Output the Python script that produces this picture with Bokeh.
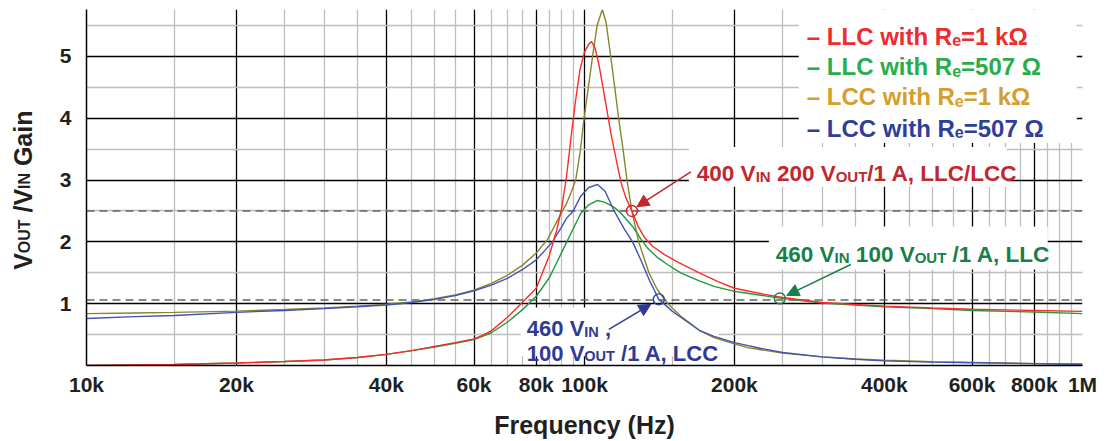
import math
from bokeh.plotting import figure
from bokeh.layouts import row
from bokeh.models import FixedTicker, Label, Span, Arrow, NormalHead, Range1d
from bokeh.embed import file_html
from bokeh.resources import INLINE

# ---------------- data (frequency in Hz, gain V/V) ----------------
llc_1k_f = [10e3, 15e3, 20e3, 25e3, 30e3, 35e3, 40e3, 45e3, 50e3, 55e3, 60e3, 62e3, 65e3, 70e3, 75e3,
            80e3, 85e3, 88e3, 90e3, 92e3, 94e3, 96e3, 98e3, 100e3, 102e3, 103.3e3, 105e3, 107e3,
            110e3, 113e3, 116e3, 118.5e3, 121e3, 124.5e3, 128e3, 132e3, 137e3, 145e3, 155e3, 170e3,
            185e3, 200e3, 230e3, 250e3, 300e3, 400e3, 500e3, 600e3, 800e3, 1000e3]
llc_1k_g = [0.0, 0.015, 0.04, 0.065, 0.09, 0.13, 0.18, 0.24, 0.31, 0.37, 0.43, 0.48, 0.56, 0.78, 1.02,
            1.25, 1.78, 2.2, 2.55, 3.05, 3.7, 4.3, 4.8, 5.07, 5.2, 5.24, 5.14, 4.85,
            4.3, 3.75, 3.3, 2.95, 2.72, 2.5, 2.26, 2.07, 1.93, 1.79, 1.66, 1.5,
            1.36, 1.25, 1.15, 1.10, 1.02, 0.96, 0.93, 0.91, 0.89, 0.875]

llc_507_f = [10e3, 15e3, 20e3, 25e3, 30e3, 35e3, 40e3, 45e3, 50e3, 55e3, 60e3, 65e3, 70e3, 75e3, 80e3,
             85e3, 90e3, 95e3, 98.3e3, 102e3, 106.2e3, 110e3, 114.7e3, 118.5e3, 124.9e3, 129.7e3,
             133.8e3, 140e3, 147e3, 156e3, 170e3, 182e3, 200e3, 212.5e3, 246.7e3, 300e3, 400e3,
             500e3, 600e3, 800e3, 1000e3]
llc_507_g = [0.0, 0.015, 0.04, 0.065, 0.09, 0.13, 0.18, 0.24, 0.30, 0.36, 0.42, 0.53, 0.70, 0.90, 1.12,
             1.42, 1.83, 2.22, 2.46, 2.6, 2.67, 2.64, 2.56, 2.46, 2.25, 2.05,
             1.9, 1.75, 1.63, 1.5, 1.37, 1.28, 1.2, 1.17, 1.09, 1.01, 0.95,
             0.92, 0.89, 0.865, 0.84]

lcc_1k_f = [10e3, 12.5e3, 15e3, 20e3, 25e3, 30e3, 35e3, 40e3, 45e3, 50e3, 55e3, 60e3, 65e3, 70e3, 75e3,
            80e3, 84.3e3, 87e3, 89.6e3, 92e3, 94e3, 96e3, 98e3, 99.8e3, 101.8e3, 103.8e3, 106e3,
            108.6e3, 110.5e3, 112.9e3, 115e3, 117.1e3, 119.5e3, 121.7e3, 124.5e3, 128.5e3, 134.7e3,
            140e3, 146.4e3, 150e3, 156e3, 170e3, 182e3, 200e3, 212.5e3, 250e3, 300e3, 350e3, 400e3,
            500e3, 600e3, 800e3, 1000e3]
lcc_1k_g = [0.84, 0.85, 0.86, 0.88, 0.905, 0.93, 0.96, 0.99, 1.03, 1.08, 1.14, 1.22, 1.33, 1.46, 1.62,
            1.82, 2.04, 2.25, 2.45, 2.62, 2.8, 3.0, 3.45, 4.0, 4.5, 5.0, 5.5,
            5.76, 5.55, 5.0, 4.5, 4.0, 3.5, 3.0, 2.5, 2.0, 1.5,
            1.23, 1.02, 0.93, 0.8, 0.57, 0.45, 0.35, 0.29, 0.2, 0.14, 0.105, 0.085,
            0.06, 0.05, 0.03, 0.02]

lcc_507_f = [10e3, 12.5e3, 15e3, 20e3, 25e3, 30e3, 35e3, 40e3, 45e3, 50e3, 55e3, 60e3, 65e3, 70e3, 75e3,
             80e3, 83e3, 86.2e3, 89.6e3, 92e3, 94.9e3, 98.3e3, 102e3, 106.2e3, 110e3, 114.7e3, 120e3,
             124.9e3, 129.7e3, 135e3, 141e3, 150e3, 156e3, 170e3, 182e3, 200e3, 225e3, 250e3, 300e3,
             350e3, 400e3, 500e3, 600e3, 800e3, 1000e3]
lcc_507_g = [0.76, 0.79, 0.81, 0.86, 0.89, 0.92, 0.95, 0.98, 1.02, 1.07, 1.13, 1.21, 1.3, 1.41, 1.55,
             1.71, 1.85, 2.0, 2.22, 2.38, 2.5, 2.74, 2.88, 2.93, 2.82, 2.5, 2.22,
             2.0, 1.71, 1.38, 1.07, 0.88, 0.78, 0.57, 0.47, 0.37, 0.28, 0.21, 0.14,
             0.10, 0.075, 0.055, 0.045, 0.03, 0.02]

# marked operating points
point_f = [124.5e3, 246.7e3, 141e3]
point_g = [2.5, 1.085, 1.07]
ref_gains = [2.5, 1.06]

x_major = [10e3, 20e3, 40e3, 60e3, 80e3, 100e3, 200e3, 400e3, 600e3, 800e3, 1000e3]
x_labels = ["10k", "20k", "40k", "60k", "80k", "100k", "200k", "400k", "600k", "800k", "1M"]
x_minor = [15e3, 25e3, 30e3, 35e3, 45e3, 50e3, 55e3, 65e3, 70e3, 75e3, 85e3, 90e3, 95e3,
           150e3, 250e3, 300e3, 350e3, 450e3, 500e3, 550e3, 650e3, 700e3, 750e3, 850e3, 900e3, 950e3]
y_major = [1, 2, 3, 4, 5]
y_minor = [0.5, 1.5, 2.5, 3.5, 4.5, 5.5]

# ---------------- styles ----------------
FONT = "Liberation Sans"
TXT = "#231f20"
C_RED, C_GRN, C_OLV, C_BLU = "#ff2a2a", "#1f9a3c", "#86862a", "#4252b4"
L_RED, L_GRN, L_GLD, L_BLU = "#ee2b2f", "#27ad4b", "#d49f2c", "#2f3e97"
A_RED, A_GRN, A_BLU = "#c1272d", "#17804a", "#2e3a94"

AB = {' ': 278, 'V': 667, 'I': 278, 'N': 722, 'O': 778, 'U': 722, 'T': 611, '/': 278, 'A': 722,
      ',': 278, 'L': 611, 'C': 722, '\u2013': 556, 'w': 778, 'i': 278, 't': 333, 'h': 611,
      'R': 722, 'e': 556, '=': 584, 'k': 556, '\u03a9': 768, 'G': 778, 'a': 556, 'n': 611}
for d in "0123456789":
    AB[d] = 556


def tw(s, size):
    return sum(AB.get(c, 600) for c in s) * size / 1000.0


LEFT_W = 40
TOP_B, BOT_B, H = 9, 75, 441
p = figure(width=1106 - LEFT_W, height=H, x_axis_type="log", output_backend="svg",
           toolbar_location=None,
           x_range=Range1d(10e3, 1000e3), y_range=Range1d(0, 5.76),
           min_border_left=86 - LEFT_W, min_border_right=24, min_border_top=TOP_B,
           min_border_bottom=BOT_B)
p.outline_line_color = None
p.background_fill_color = "white"
p.border_fill_color = "white"

xt = FixedTicker(ticks=x_major, minor_ticks=x_minor)
yt = FixedTicker(ticks=y_major, minor_ticks=y_minor)
p.xaxis.ticker = xt
p.yaxis.ticker = yt
p.xgrid.ticker = xt
p.ygrid.ticker = yt
p.xaxis.major_label_overrides = {v: s for v, s in zip(x_major, x_labels)}
for g in (p.xgrid, p.ygrid):
    g.grid_line_color = "black"
    g.grid_line_width = 1.3
    g.minor_grid_line_color = "#bdbdbd"
    g.minor_grid_line_width = 1.3
for ax in (p.xaxis, p.yaxis):
    ax.axis_line_color = "black"
    ax.axis_line_width = 1.5
    ax.major_tick_line_color = None
    ax.minor_tick_line_color = None
    ax.major_tick_out = 0
    ax.major_tick_in = 0
    ax.minor_tick_out = 0
    ax.minor_tick_in = 0
    ax.major_label_text_font = FONT
    ax.major_label_text_font_style = "bold"
    ax.major_label_text_font_size = "21px"
    ax.major_label_text_color = TXT
p.xaxis.major_label_standoff = 7
p.yaxis.major_label_standoff = 15
p.xaxis.axis_label = "Frequency (Hz)"
p.xaxis.axis_label_text_font = FONT
p.xaxis.axis_label_text_font_style = "bold"
p.xaxis.axis_label_text_font_size = "25px"
p.xaxis.axis_label_text_color = TXT
p.xaxis.axis_label_standoff = 12

# white boxes behind legend and notes (cover grid lines)
box_l = [269.3e3, 162.0e3, 234.5e3, 74.5e3]
box_r = [974e3, 704.7e3, 851.6e3, 186.1e3]
box_t = [5.76, 3.537, 2.247, 0.94]
box_b = [3.60, 2.892, 1.553, 0.15]
p.quad(left=box_l, right=box_r, top=box_t, bottom=box_b, fill_color="white", line_color=None)

for gv in ref_gains:
    p.add_layout(Span(location=gv, dimension="width", line_color="#666666", line_width=1.3,
                      line_dash="8 5", level="underlay"))

p.line(lcc_1k_f, lcc_1k_g, line_color=C_OLV, line_width=1.4)
p.line(llc_507_f, llc_507_g, line_color=C_GRN, line_width=1.4)
p.line(lcc_507_f, lcc_507_g, line_color=C_BLU, line_width=1.4)
p.line(llc_1k_f, llc_1k_g, line_color=C_RED, line_width=1.4)

p.scatter(point_f, point_g, marker="circle", size=11, fill_color=None,
          line_color=["#d02030", "#1a8040", "#3040a0"], line_width=1.4)


def rich(x, y, pieces, size, sub, color, dx=0.0, dy=0.0, drop=3.0):
    off = 0.0
    for txt, is_sub in pieces:
        fs = sub if is_sub else size
        s = txt.lstrip()
        lead = tw(txt[:len(txt) - len(s)], fs)
        if s:
            p.add_layout(Label(x=x, y=y, x_offset=dx + off + lead,
                               y_offset=dy - (drop if is_sub else 0.0), text=s,
                               text_font=FONT, text_font_style="bold", text_font_size=f"{fs}px",
                               text_color=color, text_align="left", text_baseline="alphabetic"))
        off += tw(txt, fs)


# legend
leg_y = [5.327, 4.832, 4.348, 3.839]
leg = [("\u2013 LLC with R", "=1 k\u03a9", L_RED), ("\u2013 LLC with R", "=507 \u03a9", L_GRN),
       ("\u2013 LCC with R", "=1 k\u03a9", L_GLD), ("\u2013 LCC with R", "=507 \u03a9", L_BLU)]
for yy, (a, b, c) in zip(leg_y, leg):
    rich(279.5e3, yy, [(a, False), ("e", True), (b, False)], 24, 16, c, drop=4.0)

# annotations
rich(168.1e3, 3.11, [("400 V", False), ("IN", True), (" 200 V", False), ("OUT", True),
                     ("/1 A, LLC/LCC", False)], 22.5, 15, A_RED)
rich(242.2e3, 1.795, [("460 V", False), ("IN", True), (" 100 V", False), ("OUT", True),
                      (" /1 A, LLC", False)], 22.5, 15, A_GRN)
rich(76.6e3, 0.597, [("460 V", False), ("IN", True), (" ,", False)], 22, 14.5, A_BLU)
rich(76.6e3, 0.198, [("100 V", False), ("OUT", True), (" /1 A, LCC", False)], 22, 14.5, A_BLU)

p.add_layout(Arrow(x_start=163.5e3, y_start=3.134, x_end=127.4e3, y_end=2.569,
                   line_color=A_RED, line_width=1.5,
                   end=NormalHead(size=12, fill_color=A_RED, line_color=A_RED)))
p.add_layout(Arrow(x_start=342.6e3, y_start=1.634, x_end=254.8e3, y_end=1.134,
                   line_color=A_GRN, line_width=1.5,
                   end=NormalHead(size=12, fill_color=A_GRN, line_color=A_GRN)))
p.add_layout(Arrow(x_start=111.9e3, y_start=0.585, x_end=135.9e3, y_end=0.99,
                   line_color=A_BLU, line_width=1.5,
                   end=NormalHead(size=12, fill_color=A_BLU, line_color=A_BLU)))

# ---------------- y-axis title panel (vertical text with subscripts) ----------------
# frame rows are aligned with the main plot, so use pixel-like units: y = H - screen_y
q = figure(width=LEFT_W, height=H, output_backend="svg", toolbar_location=None,
           x_range=Range1d(0, LEFT_W), y_range=Range1d(BOT_B, H - TOP_B),
           x_axis_location=None, y_axis_location=None,
           min_border_left=0, min_border_right=0, min_border_top=TOP_B,
           min_border_bottom=BOT_B)
q.grid.visible = False
q.outline_line_color = None
q.border_fill_color = "white"
q.background_fill_color = "white"

title_pieces = [("V", False), ("OUT", True), (" /V", False), ("IN", True), (" Gain", False)]
base_x, start_y, drop = 22.3, H - 270, 2.0
off = 0.0
for txt, is_sub in title_pieces:
    fs = 16 if is_sub else 25
    s = txt.lstrip()
    lead = tw(txt[:len(txt) - len(s)], fs)
    q.add_layout(Label(x=base_x + (drop if is_sub else 0.0), y=start_y + off + lead, text=s,
                       angle=math.pi / 2, text_font=FONT, text_font_style="bold",
                       text_font_size=f"{fs}px", text_color=TXT, text_align="left",
                       text_baseline="alphabetic"))
    off += tw(txt, fs)

layout = row(q, p, spacing=0)
open("out.html", "w").write(file_html(layout, INLINE))
